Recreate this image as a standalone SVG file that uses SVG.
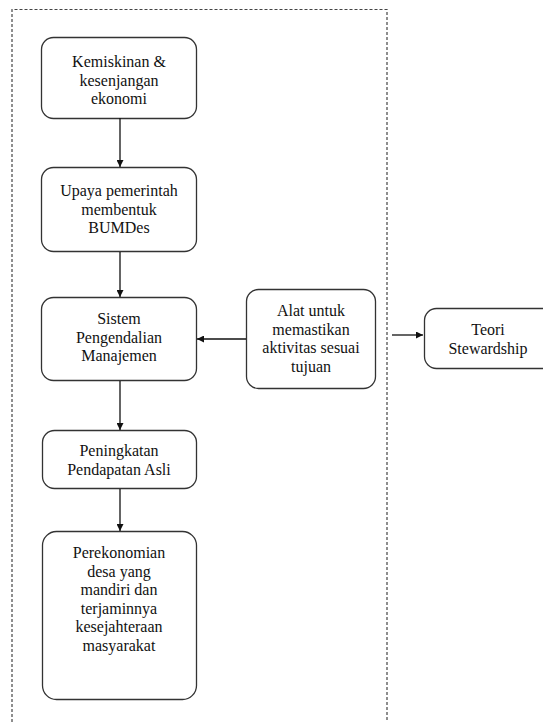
<svg xmlns="http://www.w3.org/2000/svg" width="543" height="722" viewBox="0 0 543 722">
<style>
.n{fill:#fff;stroke:#333;stroke-width:1.3}
.t{font-family:'Liberation Serif','Times New Roman','DejaVu Serif',serif;font-size:16px;fill:#111;text-anchor:middle}
.c{stroke:#111;stroke-width:1.3;fill:none}
.b{fill:none;stroke:#444;stroke-width:1.2;stroke-dasharray:3,2}
</style>
<defs>
<marker id="a" viewBox="0 0 10 10" refX="10" refY="5" markerWidth="7" markerHeight="7" markerUnits="userSpaceOnUse" orient="auto">
<path d="M0,0 L10,5 L0,10 z" fill="#111"/>
</marker>
</defs>
<path class="b" d="M12,722 V9.5 H387 V722"/>
<g id="n1"><rect class="n" x="41.5" y="37.5" width="155" height="81" rx="12"/>
<text class="t" font-family="Liberation Serif, serif" x="119" y="67">Kemiskinan &amp;</text><text class="t" font-family="Liberation Serif, serif" x="119" y="85.5">kesenjangan</text><text class="t" font-family="Liberation Serif, serif" x="119" y="104">ekonomi</text></g>
<g id="n2"><rect class="n" x="41.5" y="167.5" width="155" height="84" rx="12"/>
<text class="t" x="119" y="196">Upaya pemerintah</text><text class="t" x="119" y="214.5">membentuk</text><text class="t" x="119" y="233">BUMDes</text></g>
<g id="n3"><rect class="n" x="41.5" y="297.5" width="155" height="83" rx="12"/>
<text class="t" x="119" y="324">Sistem</text><text class="t" x="119" y="342.5">Pengendalian</text><text class="t" x="119" y="361">Manajemen</text></g>
<g id="n4"><rect class="n" x="246.5" y="289.5" width="129" height="99" rx="12"/>
<text class="t" x="311" y="316">Alat untuk</text><text class="t" x="311" y="334.5">memastikan</text><text class="t" x="311" y="353">aktivitas sesuai</text><text class="t" x="311" y="371.5">tujuan</text></g>
<g id="n5"><rect class="n" x="424.5" y="308.5" width="130" height="60" rx="12"/>
<text class="t" x="488" y="335">Teori</text><text class="t" x="488" y="353.5">Stewardship</text></g>
<g id="n6"><rect class="n" x="42.5" y="430.5" width="154" height="58" rx="12"/>
<text class="t" x="119" y="456">Peningkatan</text><text class="t" x="119" y="474.5">Pendapatan Asli</text></g>
<g id="n7"><rect class="n" x="42.5" y="531.5" width="154" height="168" rx="14"/>
<text class="t" x="119" y="558">Perekonomian</text><text class="t" x="119" y="576.5">desa yang</text><text class="t" x="119" y="595">mandiri dan</text><text class="t" x="119" y="613.5">terjaminnya</text><text class="t" x="119" y="632">kesejahteraan</text><text class="t" x="119" y="650.5">masyarakat</text></g>
<g id="connectors">
<line class="c" x1="120" y1="118" x2="120" y2="167" marker-end="url(#a)"/>
<line class="c" x1="120" y1="252" x2="120" y2="297" marker-end="url(#a)"/>
<line class="c" x1="246" y1="339" x2="197" y2="339" marker-end="url(#a)"/>
<line class="c" x1="392" y1="335" x2="423" y2="335" marker-end="url(#a)"/>
<line class="c" x1="120" y1="381" x2="120" y2="430" marker-end="url(#a)"/>
<line class="c" x1="120" y1="489" x2="120" y2="531" marker-end="url(#a)"/>
</g>
</svg>
